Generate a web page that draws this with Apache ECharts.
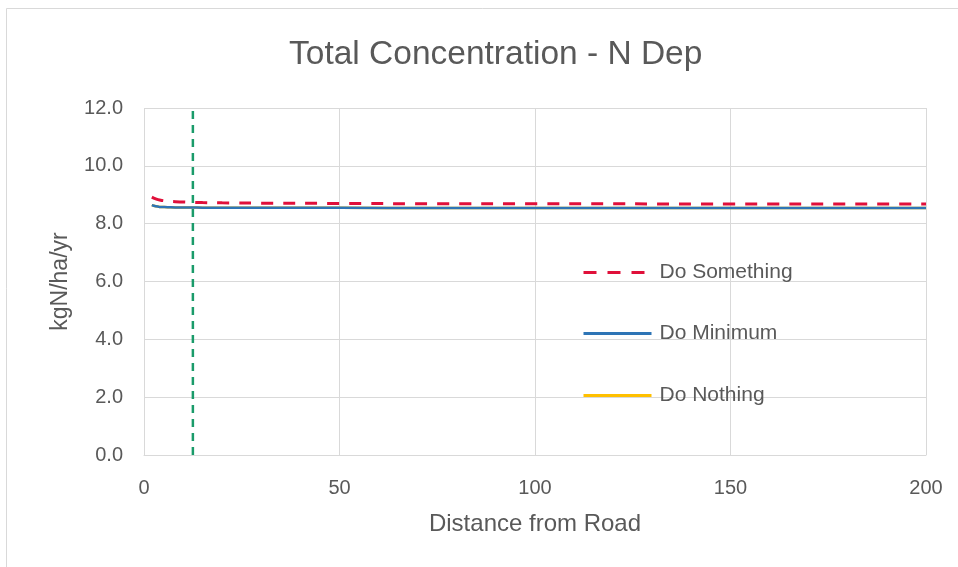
<!DOCTYPE html>
<html>
<head>
<meta charset="utf-8">
<script src="https://cdn.jsdelivr.net/npm/echarts@6/dist/echarts.min.js"></script>
<style>html,body{margin:0;padding:0;background:#fff;}#c{width:958px;height:567px;}</style>
</head>
<body>
<div id="c"></div>
<script>
const distances = [2, 3, 4, 6, 8, 10, 12, 15, 20, 30, 50, 75, 100, 150, 200];
const doSomething = [8.92, 8.86, 8.82, 8.78, 8.76, 8.75, 8.74, 8.73, 8.72, 8.71, 8.70, 8.69, 8.69, 8.68, 8.68];
const doMinimum   = [8.64, 8.60, 8.58, 8.57, 8.56, 8.56, 8.56, 8.55, 8.55, 8.55, 8.55, 8.54, 8.54, 8.54, 8.54];
const doNothing   = [8.64, 8.60, 8.58, 8.57, 8.56, 8.56, 8.56, 8.55, 8.55, 8.55, 8.55, 8.54, 8.54, 8.54, 8.54];
const roadEdge = 12.5;
const xTicks = [0, 50, 100, 150, 200];
const yTicks = [0, 2, 4, 6, 8, 10, 12];
const legendNames = ['Do Something', 'Do Minimum', 'Do Nothing'];

const FONT = "'Liberation Sans', 'DejaVu Sans', sans-serif";
const pair = (xs, ys) => xs.map((x, i) => [x, ys[i]]);
const legendTops = [257, 318, 380];
const legendDash = [[13, 11], 'solid', 'solid'];

const chart = echarts.init(document.getElementById('c'), null, {renderer: 'canvas'});
chart.setOption({
  animation: false,
  backgroundColor: '#ffffff',
  textStyle: {fontFamily: FONT},
  graphic: [{
    type: 'rect', x: 6, y: 8, z: -1, silent: true,
    shape: {x: 0.5, y: 0.5, width: 990, height: 600},
    style: {fill: 'none', stroke: '#d9d9d9', lineWidth: 1}
  }],
  title: {
    text: 'Total Concentration - N Dep',
    left: 284, top: 33,
    textStyle: {fontFamily: FONT, fontSize: 33.5, fontWeight: 'normal', color: '#595959'}
  },
  grid: {left: 144, right: 32, top: 108, bottom: 112, containLabel: false},
  legend: legendNames.map((n, i) => ({
    orient: 'horizontal',
    left: 577, top: legendTops[i],
    itemWidth: 68, itemHeight: 14,
    icon: 'inherit',
    itemStyle: {opacity: 0},
    lineStyle: {width: 3, type: legendDash[i]},
    selectedMode: false,
    textStyle: {fontFamily: FONT, fontSize: 21, color: '#595959', padding: [0, 0, 0, 3]},
    data: [n]
  })),
  xAxis: {
    type: 'value', min: 0, max: 200, interval: 50,
    name: 'Distance from Road', nameLocation: 'middle', nameGap: 57,
    nameTextStyle: {fontFamily: FONT, fontSize: 24, color: '#595959'},
    axisLine: {show: true, lineStyle: {color: '#d9d9d9'}},
    axisTick: {show: false},
    axisLabel: {fontFamily: FONT, fontSize: 20, color: '#595959', margin: 23,
      formatter: v => xTicks.includes(v) ? String(v) : ''},
    splitLine: {show: true, lineStyle: {color: '#d9d9d9'}}
  },
  yAxis: {
    type: 'value', min: 0, max: 12, interval: 2,
    name: 'kgN/ha/yr', nameLocation: 'middle', nameGap: 72, nameRotate: 90,
    nameTextStyle: {fontFamily: FONT, fontSize: 23, color: '#595959'},
    axisLine: {show: false},
    axisTick: {show: false},
    axisLabel: {fontFamily: FONT, fontSize: 20, color: '#595959', margin: 21,
      formatter: v => yTicks.includes(v) ? v.toFixed(1) : ''},
    splitLine: {show: true, lineStyle: {color: '#d9d9d9'}}
  },
  series: [
    {
      name: 'Do Nothing', type: 'line', data: pair(distances, doNothing),
      symbol: 'none', smooth: true, color: '#ffc000',
      lineStyle: {color: '#ffc000', width: 2.5}, z: 2
    },
    {
      name: 'Do Minimum', type: 'line', data: pair(distances, doMinimum),
      symbol: 'none', smooth: true, color: '#2e75b6',
      lineStyle: {color: '#2e75b6', width: 2.5}, z: 3
    },
    {
      name: 'Do Something', type: 'line', data: pair(distances, doSomething),
      symbol: 'none', smooth: true, color: '#e0103a',
      lineStyle: {color: '#e0103a', width: 3, type: [12, 10]}, z: 4
    },
    {
      name: 'Road', type: 'line', data: [[roadEdge, 0], [roadEdge, 12]],
      symbol: 'none', color: '#1a9b6a',
      lineStyle: {color: '#1a9b6a', width: 2.5, type: [8, 6]}, z: 5
    }
  ]
});
</script>
</body>
</html>
